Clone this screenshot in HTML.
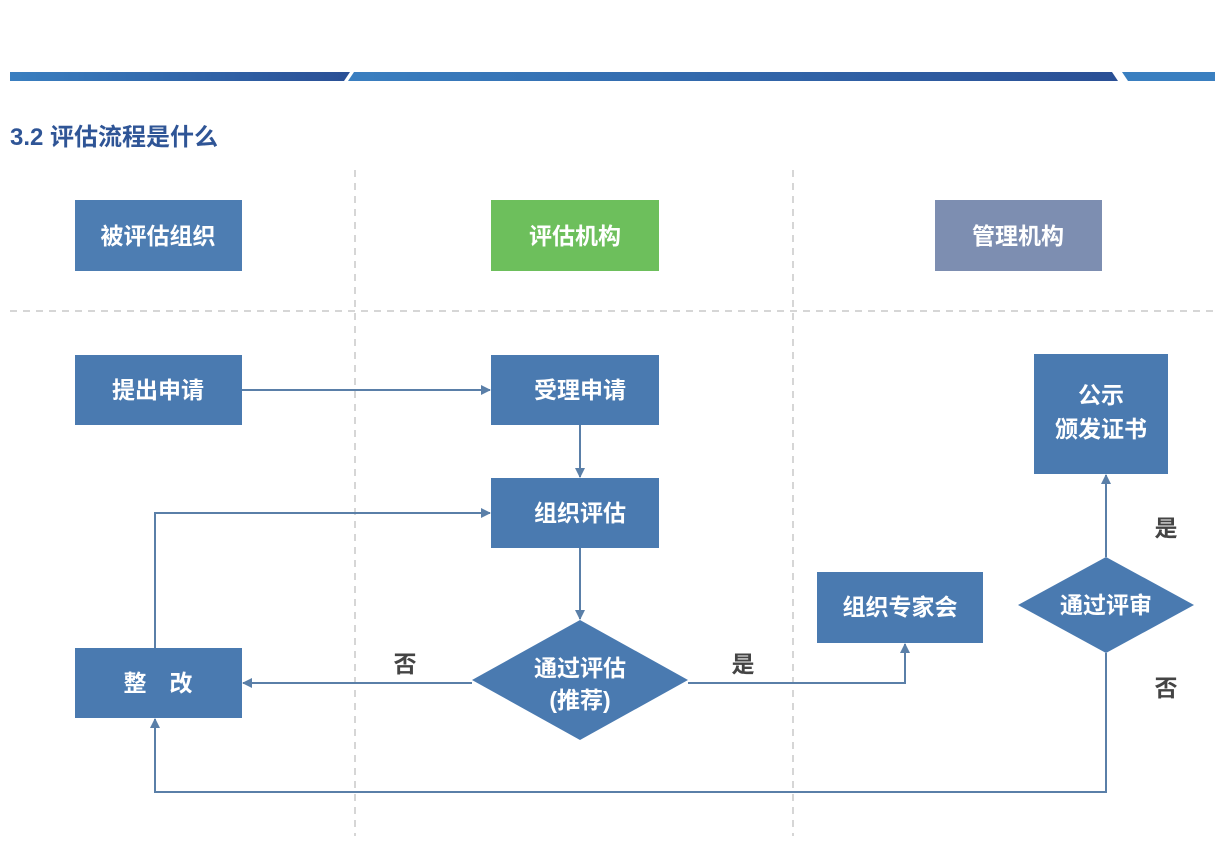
<!DOCTYPE html>
<html><head><meta charset="utf-8"><style>
html,body{margin:0;padding:0;background:#fff;}
svg{display:block}
text{font-family:"Liberation Sans","Noto Sans CJK SC",sans-serif;}
</style></head><body>
<svg width="1215" height="846" viewBox="0 0 1215 846" xmlns="http://www.w3.org/2000/svg">
<defs>
<linearGradient id="bar" x1="0" x2="1"><stop offset="0" stop-color="#3a7fc0"/><stop offset="1" stop-color="#2a4f95"/></linearGradient>
<marker id="a" markerWidth="10" markerHeight="10" refX="9" refY="5" orient="auto" markerUnits="userSpaceOnUse"><path d="M0,0 L10,5 L0,10 z" fill="#5a7fa8"/></marker>
</defs>
<rect width="1215" height="846" fill="#fff"/>
<polygon points="10,72 350,72 344,81 10,81" fill="url(#bar)"/>
<polygon points="354,72 1112,72 1118,81 348,81" fill="url(#bar)"/>
<polygon points="1122,72 1215,72 1215,81 1128,81" fill="#3a7fc0"/>
<text x="10" y="145" font-size="24" font-weight="bold" fill="#2f5596">3.2 评估流程是什么</text>
<g stroke="#c8c8c8" stroke-width="1.5" stroke-dasharray="7,6" fill="none">
<line x1="355" y1="170" x2="355" y2="836"/>
<line x1="793" y1="170" x2="793" y2="836"/>
<line x1="10" y1="311" x2="1215" y2="311"/>
</g>
<g font-size="23" fill="#fff" text-anchor="middle" font-weight="bold">
<rect x="75" y="200" width="167" height="71" fill="#4d7db2"/><text x="158" y="244">被评估组织</text>
<rect x="491" y="200" width="168" height="71" fill="#6dbf5c"/><text x="575" y="244">评估机构</text>
<rect x="935" y="200" width="167" height="71" fill="#7d8eb1"/><text x="1018" y="244">管理机构</text>
<rect x="75" y="355" width="167" height="70" fill="#4a7ab0"/><text x="158" y="398">提出申请</text>
<rect x="491" y="355" width="168" height="70" fill="#4a7ab0"/><text x="580" y="398">受理申请</text>
<rect x="491" y="478" width="168" height="70" fill="#4a7ab0"/><text x="580" y="521">组织评估</text>
<rect x="75" y="648" width="167" height="70" fill="#4a7ab0"/><text x="158" y="691">整　改</text>
<rect x="817" y="572" width="166" height="71" fill="#4a7ab0"/><text x="900" y="615">组织专家会</text>
<rect x="1034" y="354" width="134" height="120" fill="#4a7ab0"/><text x="1101" y="403">公示</text><text x="1101" y="437">颁发证书</text>
<polygon points="580,620 688,680 580,740 472,680" fill="#4a7ab0"/><text x="580" y="676">通过评估</text><text x="580" y="708">(推荐)</text>
<polygon points="1106,557 1194,605 1106,653 1018,605" fill="#4a7ab0"/><text x="1106" y="613">通过评审</text>
</g>
<g stroke="#5a7fa8" stroke-width="2" fill="none">
<line x1="242" y1="390" x2="490" y2="390" marker-end="url(#a)"/>
<line x1="580" y1="425" x2="580" y2="477" marker-end="url(#a)"/>
<line x1="580" y1="548" x2="580" y2="619" marker-end="url(#a)"/>
<line x1="472" y1="683" x2="243" y2="683" marker-end="url(#a)"/>
<polyline points="155,648 155,513 490,513" marker-end="url(#a)"/>
<polyline points="688,683 905,683 905,644" marker-end="url(#a)"/>
<line x1="1106" y1="557" x2="1106" y2="475" marker-end="url(#a)"/>
<polyline points="1106,653 1106,792 155,792 155,719" marker-end="url(#a)"/>
</g>
<g font-size="23" fill="#444" text-anchor="middle" font-weight="bold">
<text x="405" y="672">否</text><text x="743" y="672">是</text>
<text x="1166" y="536">是</text><text x="1166" y="696">否</text>
</g>
</svg>
</body></html>
